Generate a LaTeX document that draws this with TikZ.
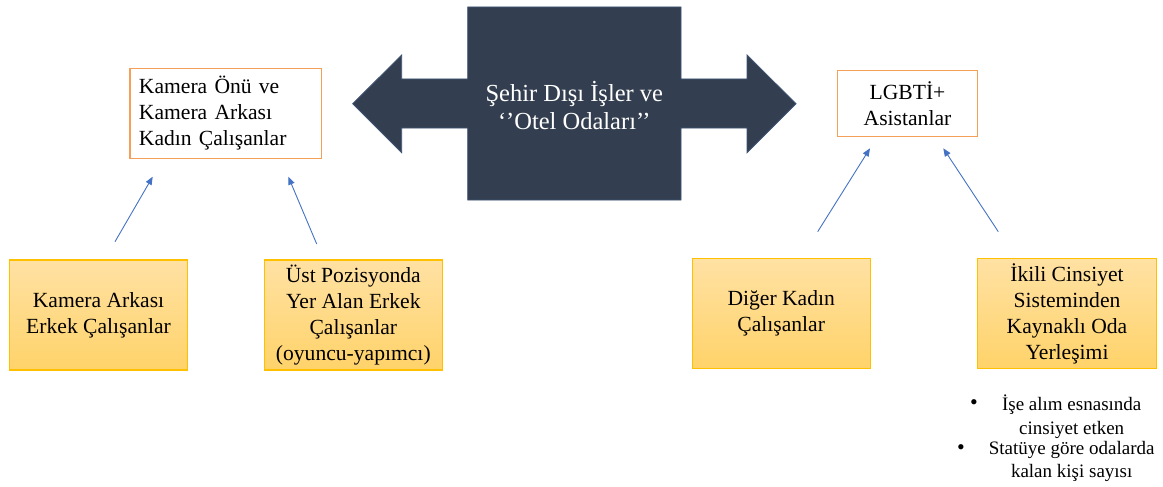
\documentclass[tikz,border=0pt]{standalone}
\usepackage{fontspec}
\setmainfont{Liberation Serif}
\usetikzlibrary{arrows.meta}
\definecolor{navy}{HTML}{333F50}
\definecolor{navyedge}{HTML}{3E5374}
\definecolor{orangeedge}{HTML}{F4A05A}
\definecolor{goldedge}{HTML}{FFC000}
\definecolor{goldtop}{HTML}{FFE1A3}
\definecolor{goldbot}{HTML}{FFD36A}
\definecolor{connblue}{HTML}{4472C4}
\begin{document}
\begin{tikzpicture}[x=1pt,y=-1pt,
  boxfont/.style={font=\fontsize{21.6}{26}\selectfont},
  topbox/.style={boxfont,draw=orangeedge,line width=1.2pt,fill=white,inner ysep=0pt},
  goldbox/.style={boxfont,draw=goldedge,line width=1.2pt,top color=goldtop,bottom color=goldbot,
    minimum width=178pt,minimum height=110pt,align=center,inner sep=2pt},
  conn/.style={draw=connblue,line width=0.9pt,-{Triangle[length=8pt,width=6.5pt]}},
  bulitem/.style={font=\fontsize{19}{23.3}\selectfont,align=center,inner sep=0pt},
  bulmark/.style={font=\fontsize{22}{24}\selectfont,inner sep=0pt}]
\useasboundingbox (0,0) rectangle (1163,487);
% central double arrow
\fill[navy,draw=navyedge,line width=0.8pt]
  (467.7,7) -- (681,7) -- (681,79) -- (747,79) -- (747,55) -- (796,103.7)
  -- (747,152.7) -- (747,128) -- (681,128) -- (681,200) -- (467.7,200)
  -- (467.7,128) -- (401.7,128) -- (401.7,152.7) -- (352.7,103.7)
  -- (401.7,55) -- (401.7,79) -- (467.7,79) -- cycle;
\node[text=white,align=center,font=\fontsize{24.5}{28}\selectfont,inner sep=0pt] (center) at (574.3,105.5)
  {Şehir Dışı İşler ve\\‘’Otel Odaları’’};
% top boxes
\node[topbox,minimum width=191.7pt,minimum height=90pt,text width=173.7pt,inner xsep=9pt,align=left] (kamera) at (225.8,113.3)
  {Kamera Önü ve\\Kamera Arkası\\Kadın Çalışanlar};
\node[topbox,minimum width=140.4pt,minimum height=65.6pt,align=center,inner xsep=2pt] (lgbti) at (907.5,103.5)
  {LGBTİ+\\Asistanlar};
% bottom boxes
\node[goldbox] (erkek) at (98.5,315) {Kamera Arkası\\Erkek Çalışanlar};
\node[goldbox] (ust) at (353.3,315) {Üst Pozisyonda\\Yer Alan Erkek\\Çalışanlar\\(oyuncu-yapımcı)};
\node[goldbox,minimum height=109.6pt] (diger) at (781.2,313.5) {Diğer Kadın\\Çalışanlar};
\node[goldbox,minimum height=109.6pt,minimum width=179.4pt] (ikili) at (1067,313.5) {İkili Cinsiyet\\Sisteminden\\Kaynaklı Oda\\Yerleşimi};
% connector end points
\coordinate (s1) at (115,241.7);   \coordinate (e1) at (152.7,176.7);
\coordinate (s2) at (316.7,244);   \coordinate (e2) at (288.3,176.7);
\coordinate (s3) at (817.7,231.7); \coordinate (e3) at (870,148.3);
\coordinate (s4) at (998.3,231.7); \coordinate (e4) at (943.3,148.3);
\draw[conn] (s1) -- (e1);
\draw[conn] (s2) -- (e2);
\draw[conn] (s3) -- (e3);
\draw[conn] (s4) -- (e4);
% bullets
\node[bulmark] (b1) at (974,404.5) {•};
\node[bulitem] (t1) at (1071.7,416.7) {İşe alım esnasında\\cinsiyet etken};
\node[bulmark] (b2) at (961,449.5) {•};
\node[bulitem] (t2) at (1071.7,461.7) {Statüye göre odalarda\\kalan kişi sayısı};
\end{tikzpicture}
\end{document}
